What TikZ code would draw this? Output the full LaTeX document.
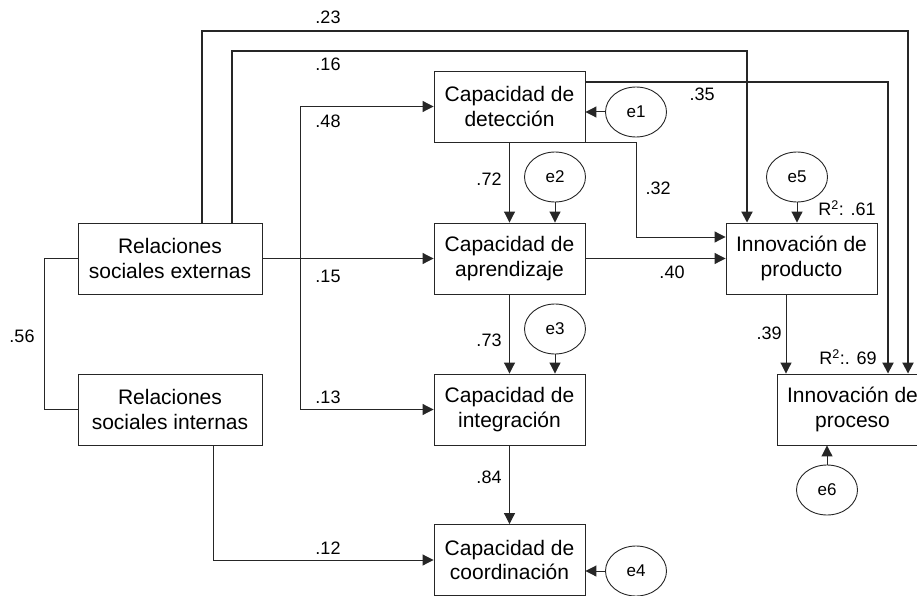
\documentclass[tikz,border=0pt]{standalone}
\usepackage{fontspec}
\setmainfont{Liberation Sans}
\usepackage{tikz}
\usetikzlibrary{arrows.meta,positioning,shapes.geometric,calc}
\definecolor{trazo}{gray}{0.15}
\tikzset{
    caja/.style={
        rectangle,
        draw=trazo,
        line width=0.9pt,
        align=center,
        inner sep=0pt,
        minimum height=71pt,
        minimum width=151pt,
        font=\fontsize{21}{24.5}\selectfont
    },
    cajaancha/.style={caja, minimum width=184pt},
    errorvar/.style={
        ellipse,
        draw=trazo,
        line width=0.9pt,
        inner sep=0pt,
        minimum width=61pt,
        minimum height=50pt,
        font=\fontsize{17}{20}\selectfont
    },
    flecha/.style={-{Triangle[length=11pt,width=11pt]}, draw=trazo, line width=1pt},
    flechagruesa/.style={flecha, line width=2pt},
    linea/.style={draw=trazo, line width=1pt},
    coef/.style={inner sep=0pt, font=\fontsize{18}{21}\selectfont}
}

\begin{document}
\begin{tikzpicture}[x=1pt,y=-1pt]
    \useasboundingbox (0,0) rectangle (917,596);

    \node[cajaancha] (rse) at (170,258.5) {Relaciones\\sociales externas};
    \node[cajaancha] (rsi) at (170,409.5) {Relaciones\\sociales internas};

    \node[caja] (det) at (509.5,106.5) {Capacidad de\\detección};
    \node[caja] (apr) at (509.5,258.5) {Capacidad de\\aprendizaje};
    \node[caja] (int) at (509.5,409.5) {Capacidad de\\integración};
    \node[caja] (coo) at (509.5,560) {Capacidad de\\coordinación};

    \node[caja] (prod) at (801.5,258.5) {Innovación de\\producto};
    \node[caja] (proc) at (852.5,409.5) {Innovación de\\proceso};

    \node[errorvar] (e1) at (636,112) {e1};
    \node[errorvar] (e2) at (555,177) {e2};
    \node[errorvar] (e3) at (555,329) {e3};
    \node[errorvar] (e4) at (636,571) {e4};
    \node[errorvar] (e5) at (797,177) {e5};
    \node[errorvar] (e6) at (827,490) {e6};

    \coordinate (k23a) at (202,31);
    \coordinate (k23b) at (908,31);
    \coordinate (k16a) at (232,51);
    \coordinate (k16b) at (747,51);
    \coordinate (k35) at (888,82);
    \coordinate (kram) at (300,258.5);
    \coordinate (k32) at (636,237);
    \coordinate (k12) at (213,560);

    \draw[flechagruesa] (k23a |- rse.north) -- (k23a) -- (k23b) -- (k23b |- proc.north);
    \draw[flechagruesa] (k16a |- rse.north) -- (k16a) -- (k16b) -- (k16b |- prod.north);
    \draw[flechagruesa] (det.east |- k35) -- (k35) -- (k35 |- proc.north);

    \draw[flecha] (rse.east) -- (apr.west);
    \draw[flecha] (kram) |- (det.west);
    \draw[flecha] (kram) |- (int.west);
    \draw[flecha] (rsi.south -| k12) -- (k12) -- (coo.west);
    \draw[linea] (rse.west) -- ++(-33,0) |- (rsi.west);

    \draw[flecha] (det.south) -- (apr.north);
    \draw[flecha] (apr.south) -- (int.north);
    \draw[flecha] (int.south) -- (coo.north);
    \draw[flecha] (det.south east) -| (k32) -- (k32 -| prod.west);
    \draw[flecha] (apr.east) -- (prod.west);
    \draw[flecha] ([xshift=-15.5pt]prod.south) -- ([xshift=-15.5pt]prod.south |- proc.north);

    \draw[flecha] (e1.west) -- (e1.west -| det.east);
    \draw[flecha] (e2.south) -- (e2.south |- apr.north);
    \draw[flecha] (e3.south) -- (e3.south |- int.north);
    \draw[flecha] (e4.west) -- (e4.west -| coo.east);
    \draw[flecha] (e5.south) -- (e5.south |- prod.north);
    \draw[flecha] (e6.north) -- (e6.north |- proc.south);

    \node[coef] (c23) at (328,17) {.23};
    \node[coef] (c16) at (328,64) {.16};
    \node[coef] (c48) at (328,121) {.48};
    \node[coef] (c15) at (328,276) {.15};
    \node[coef] (c13) at (328,397) {.13};
    \node[coef] (c12) at (328,548) {.12};
    \node[coef] (c56) at (22,336) {.56};
    \node[coef] (c72) at (489,179) {.72};
    \node[coef] (c73) at (489,340) {.73};
    \node[coef] (c84) at (489,477) {.84};
    \node[coef] (c32) at (658,188) {.32};
    \node[coef] (c35) at (702,94) {.35};
    \node[coef] (c40) at (672,272) {.40};
    \node[coef] (c39) at (769,333) {.39};
    \node[coef] (r61) at (847,208) {R\textsuperscript{2}: .61};
    \node[coef] (r69) at (848,357) {R\textsuperscript{2}:. 69};

\end{tikzpicture}
\end{document}
